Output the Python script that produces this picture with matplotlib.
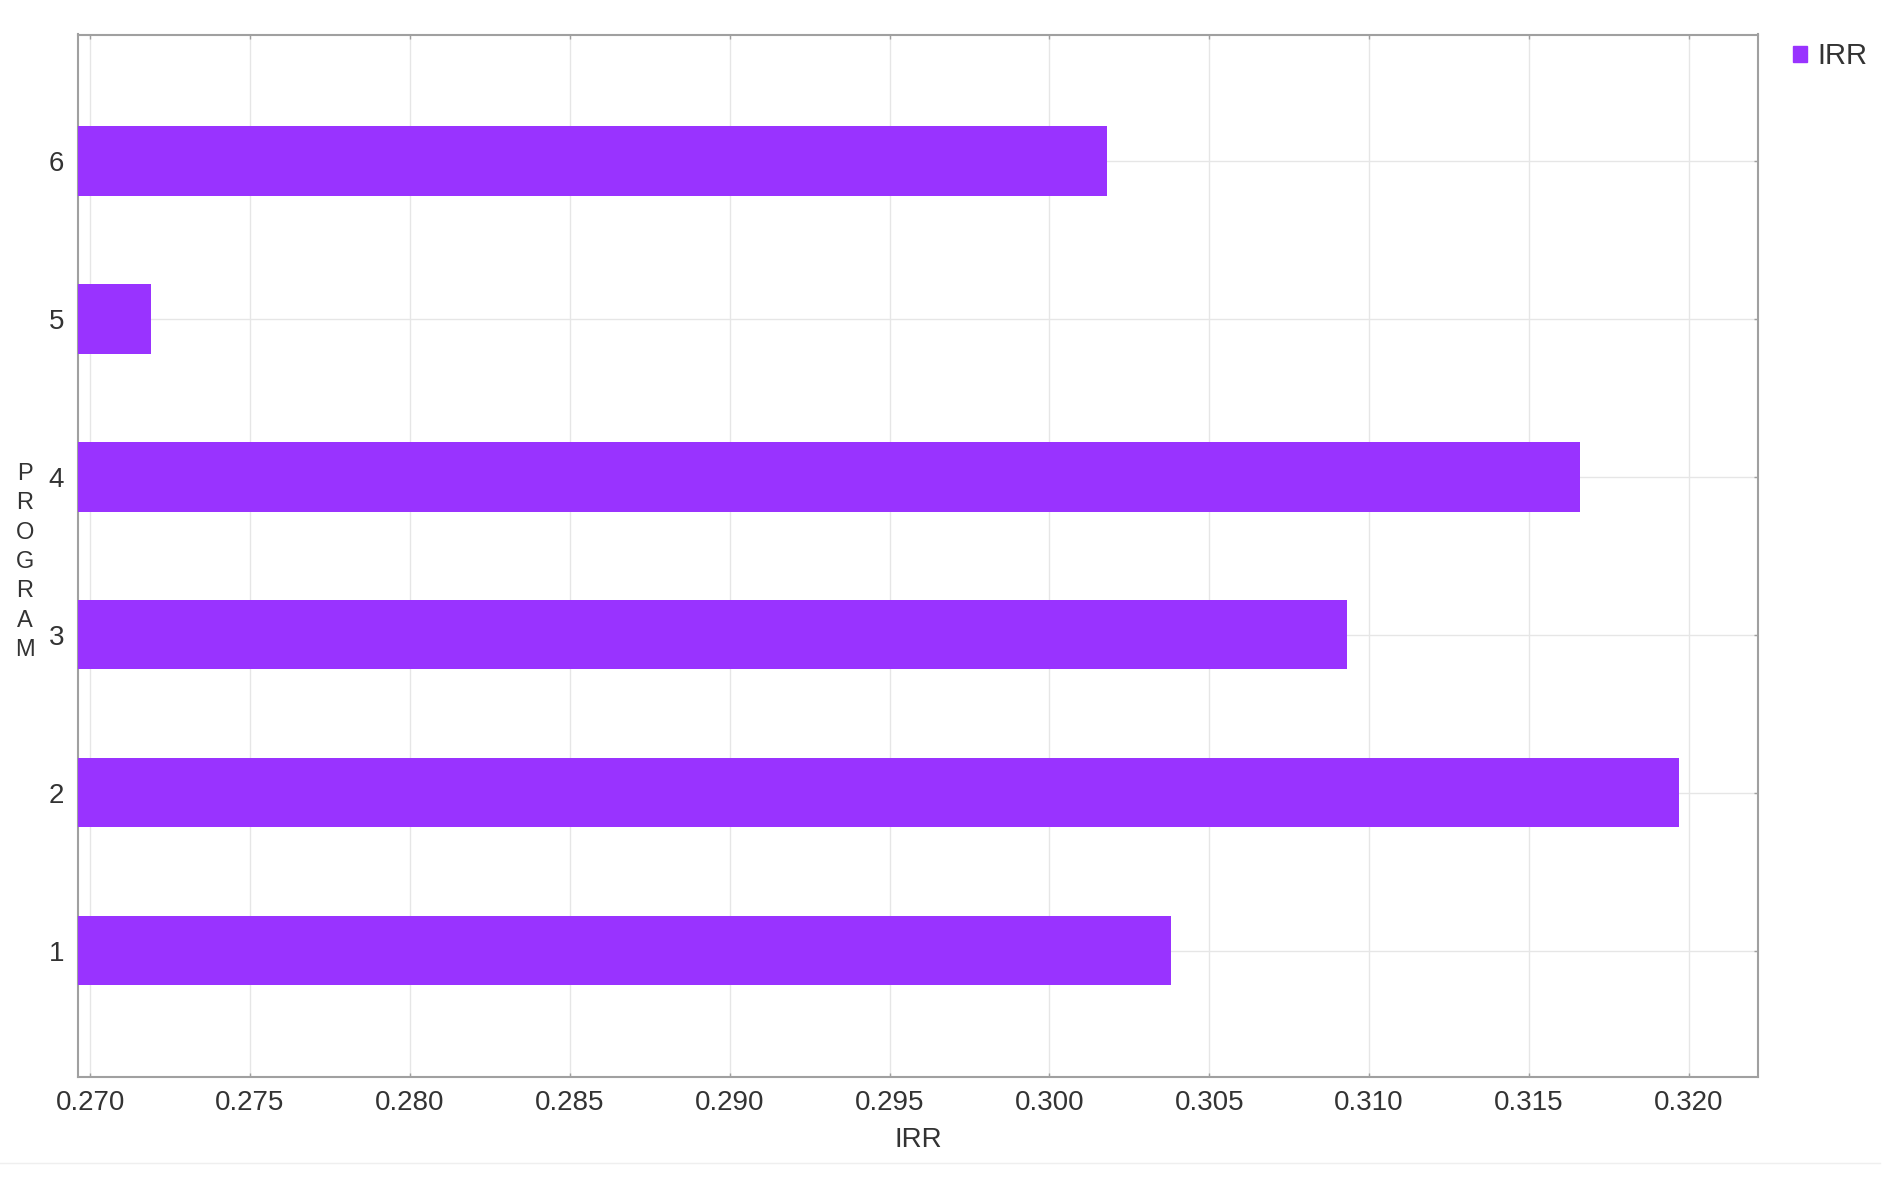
import matplotlib
matplotlib.use("Agg")
import matplotlib.pyplot as plt
from matplotlib.patches import Patch
from matplotlib.lines import Line2D

programs = [1, 2, 3, 4, 5, 6]
irr = [0.3038, 0.3197, 0.3093, 0.3166, 0.2719, 0.3018]
xticks = [0.270, 0.275, 0.280, 0.285, 0.290, 0.295, 0.300, 0.305, 0.310, 0.315, 0.320]
xtick_labels = ["0.270", "0.275", "0.280", "0.285", "0.290", "0.295", "0.300", "0.305", "0.310", "0.315", "0.320"]

plt.rcParams['font.family'] = ['Liberation Sans', 'DejaVu Sans']

fig = plt.figure(figsize=(18.97, 11.80), dpi=100)
ax = fig.add_axes([78/1897, 1 - 1077/1180, (1758-78)/1897, (1077-34.5)/1180])

bar_color = '#9933FF'
x0 = 0.26962
ax.barh(programs, [v - x0 for v in irr], left=x0, height=0.44, color=bar_color, zorder=3)

ax.set_xlim(x0, 0.32216)
ax.set_ylim(0.2, 6.8)
ax.set_xticks(xticks)
ax.set_xticklabels(xtick_labels)
ax.set_yticks(programs)
ax.set_yticklabels([str(p) for p in programs])

ax.grid(True, color='#e6e6e6', linewidth=1.0, zorder=0)
ax.set_axisbelow(True)
for s in ax.spines.values():
    s.set_color('#a0a0a0')
    s.set_linewidth(1.5)

ax.tick_params(axis='both', which='both', direction='in', length=3, width=1,
               color='#a0a0a0', labelsize=20, labelcolor='#333333',
               top=True, right=True, labeltop=False, labelright=False)
ax.tick_params(axis='x', pad=9)
ax.tick_params(axis='y', pad=10)

ax.set_xlabel('IRR', fontsize=20, color='#333333', labelpad=8)
fig.text(25/1897, 1 - 562/1180, "P\nR\nO\nG\nR\nA\nM", ha='center', va='center',
         fontsize=17, color='#333333', linespacing=1.44)

leg = ax.legend(handles=[Patch(facecolor=bar_color, edgecolor=bar_color, label='IRR')],
                loc='upper left', bbox_to_anchor=(1.014, 1.004), frameon=False,
                fontsize=21, handlelength=0.48, handleheight=0.48, handletextpad=0.35,
                borderaxespad=0.0, labelcolor='#333333')

fig.add_artist(Line2D([0, 1880/1897], [1 - 1163/1180, 1 - 1163/1180],
                      transform=fig.transFigure, color='#efefef', linewidth=1))

fig.savefig('out.png', dpi=100, facecolor='white')
